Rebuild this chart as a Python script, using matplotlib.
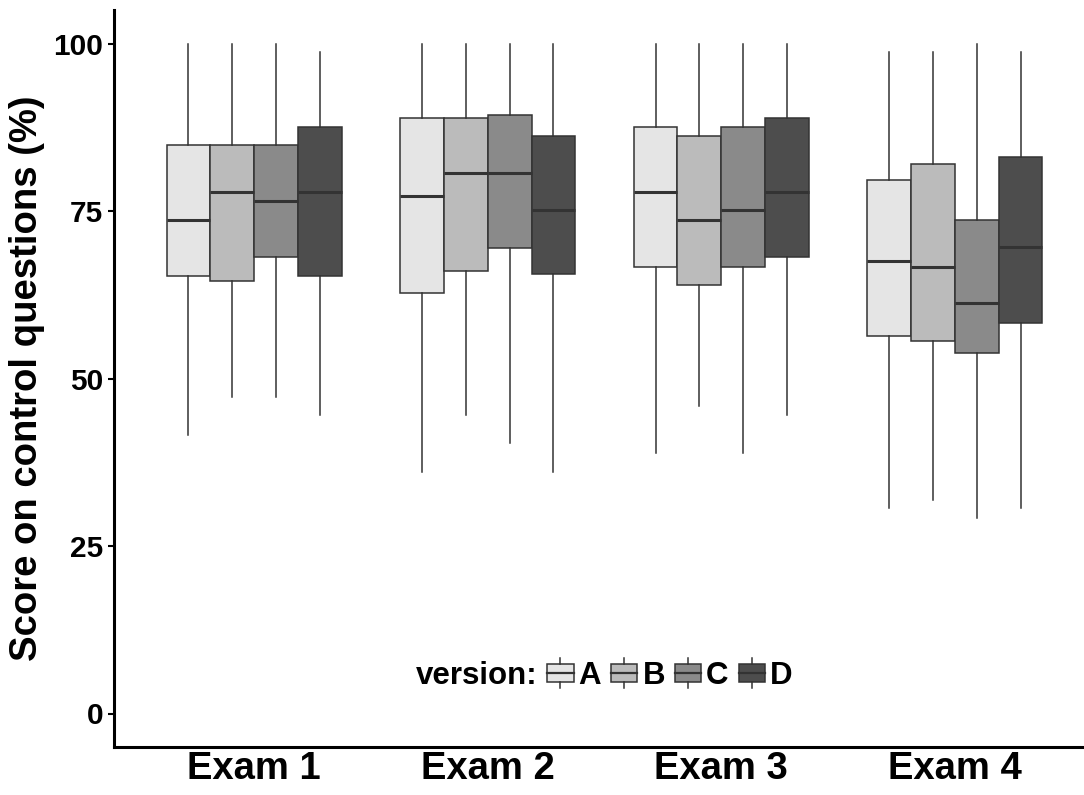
import matplotlib
matplotlib.use("Agg")
import matplotlib.pyplot as plt
from matplotlib.legend_handler import HandlerBase
from matplotlib.patches import Rectangle
from matplotlib.lines import Line2D

plt.rcParams['font.family'] = ['Liberation Sans', 'DejaVu Sans']
plt.rcParams['font.weight'] = 'bold'

exams = ["Exam 1", "Exam 2", "Exam 3", "Exam 4"]
versions = ["A", "B", "C", "D"]
fills = ["#e5e5e5", "#bbbbbb", "#8a8a8a", "#4d4d4d"]

# per exam, per version: [whislo, q1, med, q3, whishi]
exam1 = [[41.6, 65.3, 73.7, 84.8, 100.0],
         [47.2, 64.6, 77.9, 84.8, 100.0],
         [47.2, 68.1, 76.5, 84.8, 100.0],
         [44.5, 65.3, 77.9, 87.6, 98.7]]
exam2 = [[36.1, 62.8, 77.2, 88.9, 100.0],
         [44.5, 66.0, 80.6, 88.9, 100.0],
         [40.3, 69.5, 80.6, 89.3, 100.0],
         [36.1, 65.6, 75.1, 86.2, 100.0]]
exam3 = [[38.9, 66.7, 77.9, 87.6, 100.0],
         [45.9, 63.9, 73.7, 86.2, 100.0],
         [38.9, 66.7, 75.1, 87.6, 100.0],
         [44.5, 68.1, 77.9, 88.9, 100.0]]
exam4 = [[30.6, 56.3, 67.6, 79.6, 98.7],
         [31.9, 55.6, 66.7, 82.0, 98.7],
         [29.2, 53.8, 61.2, 73.6, 100.0],
         [30.6, 58.3, 69.6, 83.1, 98.7]]
scores = [exam1, exam2, exam3, exam4]

edge = "#333333"
dodge = 0.75
bw = dodge / len(versions)


class BoxKey(HandlerBase):
    def create_artists(self, legend, orig_handle, xdescent, ydescent,
                       width, height, fontsize, trans):
        fc = orig_handle.get_facecolor()
        rect = Rectangle((-xdescent, -ydescent), width, height, facecolor=fc,
                         edgecolor=edge, lw=1.1, transform=trans)
        cx = -xdescent + width / 2
        med = Line2D([-xdescent, -xdescent + width],
                     [-ydescent + height / 2] * 2, color=edge, lw=1.6,
                     transform=trans)
        top = Line2D([cx, cx], [-ydescent + height, -ydescent + height * 1.3],
                     color=edge, lw=1.1, transform=trans)
        bot = Line2D([cx, cx], [-ydescent, -ydescent - height * 0.3],
                     color=edge, lw=1.1, transform=trans)
        return [rect, med, top, bot]


class NoKey(HandlerBase):
    # placeholder entry so "version:" sits inline before the keys
    def create_artists(self, legend, orig_handle, xdescent, ydescent,
                       width, height, fontsize, trans):
        return [Rectangle((0, 0), 0, 0, visible=False, transform=trans)]


fig = plt.figure(figsize=(10.84, 7.95), dpi=100)
ax = fig.add_axes([114 / 1084, 48 / 795, 981 / 1084, 737 / 795])

for j, v in enumerate(versions):
    stats = []
    pos = []
    for i, ex in enumerate(scores):
        lo, q1, med, q3, hi = ex[j]
        stats.append(dict(whislo=lo, q1=q1, med=med, q3=q3, whishi=hi,
                          fliers=[]))
        pos.append(i + 1 - dodge / 2 + bw * (j + 0.5))
    ax.bxp(stats, positions=pos, widths=bw, patch_artist=True,
           showcaps=False, showfliers=False,
           boxprops=dict(facecolor=fills[j], edgecolor=edge, lw=1.1),
           whiskerprops=dict(color=edge, lw=1.1),
           medianprops=dict(color=edge, lw=2.2))

ax.set_xlim(0.4, 4.6)
ax.set_ylim(-5, 105)
ax.set_yticks([0, 25, 50, 75, 100])
ax.set_xticks(range(1, 5))
ax.set_xticklabels(exams, fontsize=27.5, fontweight='bold')
ax.tick_params(axis='x', length=0, pad=3)
ax.tick_params(axis='y', length=4.3, width=1.5, labelsize=21.5, pad=3.5)
for t in ax.get_yticklabels():
    t.set_fontweight('bold')
for s in ['top', 'right']:
    ax.spines[s].set_visible(False)
for s in ['left', 'bottom']:
    ax.spines[s].set_linewidth(2.2)
ax.set_ylabel("Score on control questions (%)", fontsize=27.5,
              fontweight='bold', labelpad=6)

handles = [Rectangle((0, 0), 1, 1, facecolor='none')]
handles += [Rectangle((0, 0), 1, 1, facecolor=c) for c in fills]
handler_map = {handles[0]: NoKey()}
for h in handles[1:]:
    handler_map[h] = BoxKey()
leg = ax.legend(handles, ["version:"] + versions, handler_map=handler_map,
                ncol=5, frameon=False, loc='center',
                bbox_to_anchor=(0.4837, 0.0963), bbox_transform=ax.transAxes,
                prop=dict(size=22.5, weight='bold'), handlelength=0.84,
                handleheight=0.55, handletextpad=0.16, columnspacing=0.32)

fig.savefig("out.png", dpi=100)
